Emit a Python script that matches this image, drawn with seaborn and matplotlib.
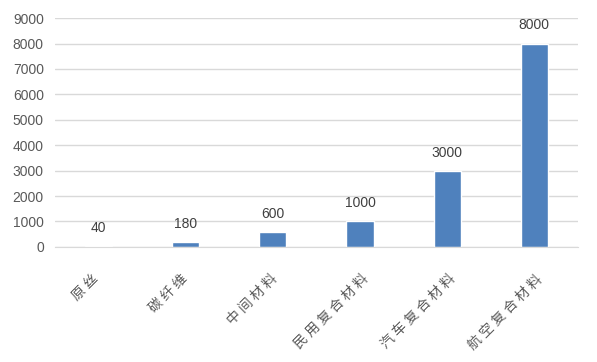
import matplotlib
matplotlib.use("Agg")
import matplotlib.pyplot as plt
import matplotlib.transforms as mtransforms
import seaborn as sns
import pandas as pd

categories = ["原丝", "碳纤维", "中间材料", "民用复合材料", "汽车复合材料", "航空复合材料"]
values = [40, 180, 600, 1000, 3000, 8000]
y_ticks = [0, 1000, 2000, 3000, 4000, 5000, 6000, 7000, 8000, 9000]

df = pd.DataFrame({"stage": categories, "value": values})

sns.set_style("white")
plt.rcParams["font.family"] = ["Noto Sans CJK SC", "DejaVu Sans"]

fig = plt.figure(figsize=(5.97, 3.62), dpi=100)
ax = fig.add_axes([0.092, 0.318, 0.876, 0.632])

sns.barplot(data=df, x="stage", y="value", color="#4F81BD", width=0.31,
            saturation=1, ax=ax)

ax.set_ylim(0, 9000)
ax.set_yticks(y_ticks)
ax.set_yticklabels([str(t) for t in y_ticks], color="#595959", fontsize=10,
                   family=["Liberation Sans"])
ax.yaxis.grid(True, color="#D9D9D9", linewidth=1)
ax.set_axisbelow(True)
for side in ["top", "right", "left"]:
    ax.spines[side].set_visible(False)
ax.spines["bottom"].set_color("#D9D9D9")
ax.tick_params(axis="both", length=0)
ax.tick_params(axis="y", pad=8)
ax.tick_params(axis="x", pad=0)
ax.set_xlabel("")
ax.set_ylabel("")

# rotated category labels, letter-spaced like the original;
# longer labels sit a little further right, as Excel does
ax.set_xticks(range(len(categories)))
ax.set_xticklabels([" ".join(c) for c in categories], rotation=45, ha="right",
                   va="center", rotation_mode="anchor", color="#595959",
                   fontsize=10)
for lab, cat in zip(ax.get_xticklabels(), categories):
    dx = -2 + 2 * (len(cat) - 2)
    off = mtransforms.ScaledTranslation(dx / 100, -30 / 100, fig.dpi_scale_trans)
    lab.set_transform(lab.get_transform() + off)

for i, v in enumerate(values):
    ax.annotate(str(v), (i, v), xytext=(0, 8), textcoords="offset points",
                ha="center", va="bottom", fontsize=10, color="#404040",
                family=["Liberation Sans"])

fig.savefig("out.png", dpi=100)
plt.close(fig)
